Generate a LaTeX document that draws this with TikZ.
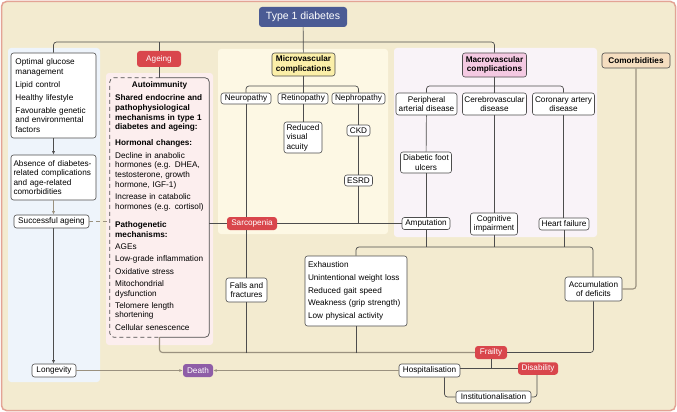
\documentclass[tikz,border=0pt]{standalone}
\usepackage{fontspec}
\setmainfont{Liberation Sans}
\usepackage{xcolor}
\usepackage{tikz}
\usetikzlibrary{arrows.meta, positioning, calc}
\definecolor{bgbeige}{HTML}{F3EBD0}
\definecolor{rimred}{HTML}{E3A395}
\definecolor{navy}{HTML}{4B5B94}
\definecolor{agered}{HTML}{D9464C}
\definecolor{deathpurple}{HTML}{8E5DA7}
\definecolor{microyel}{HTML}{FBEFA8}
\definecolor{macropink}{HTML}{F4C9E2}
\definecolor{comorbtan}{HTML}{F5DEC0}
\definecolor{bluepanel}{HTML}{EEF4FB}
\definecolor{pinkpanel}{HTML}{FCEEEE}
\definecolor{yelpanel}{HTML}{FDF8E4}
\definecolor{lilacpanel}{HTML}{F9F3F8}
\definecolor{linegray}{HTML}{4D4D4D}
\definecolor{busgray}{HTML}{9A917F}
\newcommand{\boxfont}{\fontsize{8.2}{9.5}\selectfont}
\tikzset{
    box/.style={rectangle, draw=linegray, fill=white, rounded corners=2.5pt, line width=0.6pt, inner sep=0pt, align=center, font=\boxfont},
    listbox/.style={box, align=left, inner xsep=4.5pt},
    hdbox/.style={box, font=\boxfont\bfseries},
    redbox/.style={rectangle, fill=agered, text=white, rounded corners=3pt, inner sep=0pt, font=\boxfont},
    link/.style={draw=linegray, line width=0.7pt, rounded corners=3pt},
    bus/.style={draw=busgray, line width=1.1pt, rounded corners=3pt},
    arrow/.style={link, -{Latex[length=3.5pt,width=3pt]}},
    garrow/.style={bus, -{Latex[length=3.5pt,width=3pt]}}
}

\begin{document}
\begin{tikzpicture}[x=1pt, y=-1pt]
    \useasboundingbox (0,0) rectangle (677,412);
    % frame and panels
    \draw [rimred, fill=bgbeige, line width=1.5pt, rounded corners=5pt] (1.5,1.5) rectangle (675.5,410.5);
    \fill [bluepanel, rounded corners=3pt] (8,48) rectangle (100,382);
    \fill [pinkpanel, rounded corners=3pt] (106,73) rectangle (213,345);
    \fill [yelpanel, rounded corners=3pt] (218,49) rectangle (388,234);
    \fill [lilacpanel, rounded corners=3pt] (394,48) rectangle (597,237);

    \node (t1d) [rectangle, fill=navy, text=white, rounded corners=3pt, minimum width=88pt, minimum height=20pt, font=\fontsize{10.5}{12}\selectfont] at (303,17) {Type 1 diabetes};

    % left column
    \node (opt) [listbox, text width=76pt, minimum width=85pt, minimum height=85pt] at (53.5,95.5) {Optimal glucose\\ management\\[3.5pt] Lipid control\\[3.5pt] Healthy lifestyle\\[3.5pt] Favourable genetic\\ and environmental\\ factors};
    \node (absence) [listbox, inner xsep=2.5pt, text width=80pt, minimum width=85pt, minimum height=45pt] at (53.5,177.5) {Absence of diabetes-\\ related complications\\ and age-related\\ comorbidities};
    \node (success) [box, minimum width=75pt, minimum height=13pt] at (51.5,221.5) {Successful ageing};
    \node (longevity) [box, minimum width=44pt, minimum height=13pt] at (54,370.5) {Longevity};

    % ageing
    \node (ageing) [redbox, minimum width=44pt, minimum height=16pt] at (159,59) {Ageing};
    \node (auto) [rectangle, inner sep=0pt, minimum width=99pt, minimum height=259pt] at (159.5,207.5) {};
    \node (autotitle) [font=\boxfont\bfseries, inner sep=0pt] at (159.5,85) {Autoimmunity};
    \node (autobody) [anchor=north west, inner sep=0pt, text width=93pt, align=left, font=\fontsize{8.2}{9.7}\selectfont] at (115,94.5) {\bfseries Shared endocrine and\\ pathophysiological\\ mechanisms in type 1\\ diabetes and ageing:\\[6.5pt] Hormonal changes:\\[2.5pt] \mdseries Decline in anabolic\\ hormones (e.g. DHEA,\\ testosterone, growth\\ hormone, IGF-1)\\[2.5pt] Increase in catabolic\\ hormones (e.g. cortisol)\\[9pt] \bfseries Pathogenetic\\ mechanisms:\\[2.5pt] \mdseries AGEs\\[2.5pt] Low-grade inflammation\\[2.5pt] Oxidative stress\\[2.5pt] Mitochondrial\\ dysfunction\\[2.5pt] Telomere length\\ shortening\\[2.5pt] Cellular senescence};

    % microvascular
    \node (micro) [hdbox, fill=microyel, minimum width=63pt, minimum height=23pt] at (303.5,64.5) {Microvascular\\ complications};
    \node (neuro) [box, minimum width=50pt, minimum height=11pt] at (246,98.5) {Neuropathy};
    \node (retino) [box, minimum width=50pt, minimum height=11pt] at (303,98.5) {Retinopathy};
    \node (nephro) [box, minimum width=53pt, minimum height=11pt] at (358.5,98.5) {Nephropathy};
    \node (visual) [listbox, inner xsep=2.5pt, text width=33pt, minimum width=38pt, minimum height=31pt] at (303,137.5) {Reduced\\ visual\\ acuity};
    \node (ckd) [box, minimum width=23pt, minimum height=11pt] at (358.5,130.5) {CKD};
    \node (esrd) [box, minimum width=28pt, minimum height=11pt] at (358.5,180.5) {ESRD};
    \node (sarc) [redbox, minimum width=50pt, minimum height=13pt] at (252,223.5) {Sarcopenia};
    \node (falls) [box, minimum width=41pt, minimum height=24pt] at (246.5,290) {Falls and\\ fractures};

    % macrovascular
    \node (macro) [hdbox, fill=macropink, minimum width=64pt, minimum height=24pt] at (494.5,65) {Macrovascular\\ complications};
    \node (periph) [box, minimum width=61pt, minimum height=22pt] at (426.5,104) {Peripheral\\ arterial disease};
    \node (cerebro) [box, minimum width=64pt, minimum height=22pt] at (494.5,104) {Cerebrovascular\\ disease};
    \node (coronary) [box, minimum width=62pt, minimum height=22pt] at (563.5,104) {Coronary artery\\ disease};
    \node (foot) [box, minimum width=51pt, minimum height=21pt] at (426,162.5) {Diabetic foot\\ ulcers};
    \node (amput) [box, minimum width=48pt, minimum height=12pt] at (426,223.5) {Amputation};
    \node (cogn) [box, minimum width=47pt, minimum height=22pt] at (494,224) {Cognitive\\ impairment};
    \node (heart) [box, minimum width=50pt, minimum height=12pt] at (564,224) {Heart failure};

    % comorbidities and frailty
    \node (comorb) [hdbox, fill=comorbtan, minimum width=68pt, minimum height=15pt] at (636,60.5) {Comorbidities};
    \node (accum) [box, minimum width=57pt, minimum height=24pt] at (593.5,289) {Accumulation\\ of deficits};
    \node (exhaust) [listbox, inner xsep=3pt, text width=96pt, minimum width=102pt, minimum height=70pt] at (356,291) {Exhaustion\\[3.3pt] Unintentional weight loss\\[3.3pt] Reduced gait speed\\[3.3pt] Weakness (grip strength)\\[3.3pt] Low physical activity};
    \node (frailty) [redbox, minimum width=32pt, minimum height=13pt] at (491,352.5) {Frailty};
    \node (hosp) [box, minimum width=61pt, minimum height=13pt] at (429.5,370.5) {Hospitalisation};
    \node (disab) [redbox, minimum width=40pt, minimum height=12.5pt] at (538,368.5) {Disability};
    \node (instit) [box, minimum width=75pt, minimum height=12pt] at (493.5,397) {Institutionalisation};
    \node (death) [rectangle, fill=deathpurple, text=white, rounded corners=3pt, inner sep=0pt, font=\boxfont, minimum width=30pt, minimum height=13pt] at (198,370.5) {Death};

    \coordinate (topbus) at (303,42);
    \coordinate (microbus) at (303,86);
    \coordinate (macrobus) at (494.5,86);
    \coordinate (frailbus) at (593,247);

    % autoimmunity frame, half dashed
    \draw [link, rounded corners=4pt] (auto.north) -- (auto.north east) -- (auto.south east) -- (auto.south);
    \draw [link, dash pattern=on 4pt off 3pt, rounded corners=4pt] (auto.north) -- (auto.north west) -- (auto.south west) -- (auto.south);

    % top tree
    \draw [link] (opt.north) |- (topbus) -| (macro.north);
    \draw [link] (t1d) -- (micro);
    \draw [link] (ageing.north) -- (ageing.north |- topbus);
    \draw [link] (ageing.south) -- (ageing.south |- auto.north);

    % left column
    \draw [arrow] (opt) -- (absence);
    \draw [garrow] (absence.south) -- (absence.south |- success.north);
    \draw [arrow] (absence.south |- success.south) -- (absence.south |- longevity.north);
    \draw [bus, line width=0.8pt, dash pattern=on 4pt off 3pt] (success.east) -- (success.east -| auto.west);

    % microvascular
    \draw [link] (neuro.north) |- (microbus) -| (nephro.north);
    \draw [link] (micro.south) -- (micro.south |- retino.north);
    \draw [link] (retino) -- (visual);
    \draw [link] (nephro) -- (ckd);
    \draw [link] (ckd) -- (esrd);
    \draw [link] (esrd.south) -- (esrd.south |- sarc);
    \draw [link] (neuro.south) -- (neuro.south |- sarc.north);
    \draw [link] (neuro.south |- sarc.south) -- (neuro.south |- falls.north);
    \draw [link] (auto.east |- sarc) -- (sarc.west);
    \draw [link] (sarc.east) -- (amput.west);

    % macrovascular
    \draw [link] (periph.north) |- (macrobus) -| (coronary.north);
    \draw [link] (macro) -- (cerebro);
    \draw [link] (periph) -- (foot);
    \draw [link] (foot) -- (amput);
    \draw [link] (cerebro.south) -- (cerebro.south |- cogn.north);
    \draw [link] (coronary.south) -- (coronary.south |- heart.north);

    % towards frailty
    \draw [link] (exhaust.north) |- (frailbus) -- (frailbus |- accum.north);
    \draw [link] (amput.south) -- (amput.south |- frailbus);
    \draw [link] (cogn.south) -- (cogn.south |- frailbus);
    \draw [link] (heart.south) -- (heart.south |- frailbus);
    \draw [bus] (comorb.south) |- (accum.east);
    \draw [bus] (auto.south) |- (frailty.west);
    \draw [link] (falls.south) -- (falls.south |- frailty);
    \draw [link] (exhaust.south) -- (exhaust.south |- frailty);
    \draw [link] (frailty.east) -| (accum.south);

    % outcomes
    \draw [link] (frailty.south) -- (frailty.south |- disab.west);
    \draw [link] (hosp.east |- disab.west) -- (disab.west);
    \draw [link] ([xshift=15pt]hosp.south) |- (instit.west);
    \draw [link] ([xshift=-1pt]disab.south) |- (instit.east);
    \draw [garrow, line width=0.9pt] (longevity) -- (death);
    \draw [garrow, line width=0.9pt] (hosp) -- (death);
\end{tikzpicture}
\end{document}
